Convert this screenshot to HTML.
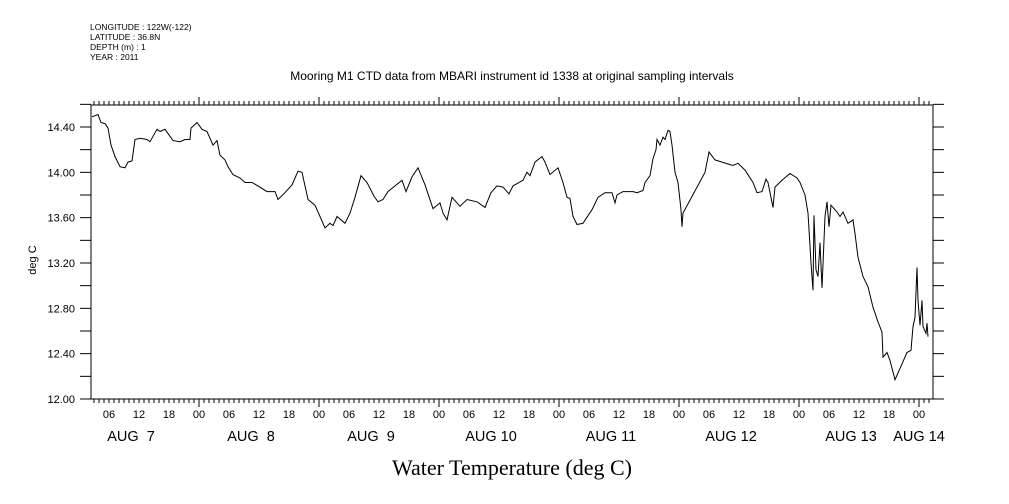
<!DOCTYPE html>
<html><head><meta charset="utf-8"><style>
html,body{margin:0;padding:0;background:#fff;}
svg{display:block;}
text{font-family:"Liberation Sans",sans-serif;fill:#000;white-space:pre;}
</style></head><body>
<svg id="chart" width="1009" height="504" viewBox="0 0 1009 504" xmlns="http://www.w3.org/2000/svg">
<g font-size="8.5">
<text x="90" y="30">LONGITUDE : 122W(-122)</text>
<text x="90" y="40">LATITUDE : 36.8N</text>
<text x="90" y="50">DEPTH (m) : 1</text>
<text x="90" y="60">YEAR : 2011</text>
</g>
<text x="512" y="80" font-size="12" text-anchor="middle">Mooring M1 CTD data from MBARI instrument id 1338 at original sampling intervals</text>
<text x="512" y="475" font-size="22" text-anchor="middle" style="font-family:'Liberation Serif',serif">Water Temperature (deg C)</text>
<text x="36" y="260" font-size="11" text-anchor="middle" transform="rotate(-90 36 260)">deg C</text>
<rect x="91" y="105" width="842" height="294" fill="none" stroke="#000" stroke-width="1"/>
<g id="axes"></g>
<path id="series" fill="none" stroke="#000" stroke-width="1"/>
</svg>
<script>
const hours=[2.6,3.8,4.4,5.2,5.8,6.4,7.2,8.2,9.2,9.8,10.6,11.2,12.2,13.6,14.2,15.6,16.2,17.2,18.8,20.2,21.2,22.2,22.4,23.6,24.6,25.6,26.8,27.6,28.2,29.2,29.8,30.8,32.2,33.2,34.6,35.8,37.6,39.2,39.8,41.2,42.6,43.8,44.6,45.8,47.2,48.2,49.2,50.2,50.8,51.6,53.2,54.2,55.2,56.4,57.6,59.0,59.8,60.8,61.8,63.2,64.6,65.4,66.6,67.8,69.2,70.8,72.2,72.8,73.6,74.6,76.2,77.6,79.6,81.2,82.4,83.6,84.8,86.0,86.8,88.8,89.6,90.2,91.2,92.6,93.2,94.2,95.8,96.8,97.6,98.2,98.8,99.6,100.8,102.6,103.8,105.2,106.6,107.2,107.6,108.8,110.8,111.6,112.8,113.2,114.2,114.8,115.4,115.6,116.2,116.8,117.2,117.8,118.2,118.6,119.2,119.8,120.4,120.6,120.8,125.2,126.0,127.2,128.6,130.8,131.8,133.2,134.8,135.6,136.6,137.4,137.8,138.8,139.2,140.6,142.2,143.6,144.2,145.2,145.8,146.4,146.8,147.0,147.4,147.8,148.2,148.6,149.2,149.6,150.0,150.4,151.6,152.2,152.8,153.8,154.8,155.2,155.8,156.8,157.8,158.8,159.8,160.6,160.8,161.6,162.2,163.2,164.2,165.6,166.4,166.8,167.2,167.6,167.8,168.2,168.6,168.8,169.4,169.6,169.8];
const temps=[14.49,14.51,14.44,14.43,14.39,14.24,14.14,14.05,14.04,14.09,14.10,14.29,14.30,14.29,14.27,14.38,14.36,14.38,14.28,14.27,14.29,14.29,14.39,14.44,14.38,14.36,14.24,14.28,14.15,14.11,14.05,13.98,13.95,13.91,13.91,13.88,13.83,13.83,13.76,13.82,13.89,14.01,14.00,13.76,13.71,13.61,13.51,13.55,13.53,13.61,13.55,13.64,13.78,13.97,13.91,13.79,13.74,13.76,13.83,13.88,13.93,13.83,13.96,14.04,13.89,13.68,13.73,13.64,13.58,13.78,13.70,13.76,13.74,13.69,13.82,13.88,13.87,13.81,13.88,13.93,14.00,13.97,14.09,14.14,14.09,13.98,14.04,13.91,13.78,13.77,13.61,13.54,13.55,13.67,13.78,13.82,13.82,13.73,13.80,13.83,13.83,13.82,13.84,13.91,13.97,14.12,14.20,14.29,14.24,14.31,14.29,14.37,14.36,14.24,14.00,13.91,13.67,13.52,13.64,14.00,14.18,14.11,14.09,14.06,14.08,14.02,13.91,13.82,13.83,13.94,13.91,13.69,13.87,13.93,13.99,13.95,13.91,13.80,13.64,13.20,12.96,13.62,13.14,13.08,13.38,12.98,13.61,13.74,13.52,13.71,13.65,13.61,13.65,13.55,13.58,13.46,13.25,13.08,12.99,12.81,12.68,12.59,12.37,12.41,12.34,12.17,12.27,12.41,12.43,12.64,12.72,13.16,12.87,12.65,12.87,12.64,12.58,12.67,12.55];
const yTicks=[12.0,12.4,12.8,13.2,13.6,14.0,14.4];
const hourLabels=["00","06","12","18"];
const dayLabels=["AUG  7","AUG  8","AUG  9","AUG 10","AUG 11","AUG 12","AUG 13","AUG 14"];
const X0=91,X1=933,Y0=399,Y1=105;
const xOf=h=>79+h*5;
const yOf=v=>399-(v-12)*113.33;
const NS="http://www.w3.org/2000/svg";
const axes=document.getElementById('axes');
function el(tag,attrs,txt){const e=document.createElementNS(NS,tag);for(const k in attrs)e.setAttribute(k,attrs[k]);if(txt!==undefined)e.textContent=txt;axes.appendChild(e);return e;}
let d="";
hours.forEach((h,i)=>{d+=(i?"L":"M")+xOf(h).toFixed(1)+" "+yOf(temps[i]).toFixed(1);});
document.getElementById('series').setAttribute('d',d);
for(let v=12.0;v<=14.61;v+=0.2){
  const y=yOf(v);
  const t1=el('line',{x1:X0-11,x2:X0,y1:y,y2:y,stroke:'#000','stroke-width':1});
  
  
  const t2=el('line',{x1:X1,x2:X1+11,y1:y,y2:y,stroke:'#000','stroke-width':1});
  
  
}
yTicks.forEach(v=>{
  const t=el('text',{x:75,y:yOf(v)+4,'font-size':11,'text-anchor':'end'},v.toFixed(2));
  
  
});
for(let h=Math.ceil((X0-79)/5);xOf(h)<=X1;h++){
  const x=xOf(h);const major=h%24===0;const len=major?8:4;
  const b=el('line',{x1:x,x2:x,y1:Y0,y2:Y0+len,stroke:'#000','stroke-width':1});
  
  
  const t=el('line',{x1:x,x2:x,y1:Y1,y2:Y1-len,stroke:'#000','stroke-width':1});
  
  
  if(h%6===0){
    const l=el('text',{x:x,y:418,'font-size':11,'text-anchor':'middle'},hourLabels[(h/6)%4]);
    
    
  }
}
dayLabels.forEach((lab,i)=>{
  let cx=Math.min(xOf(i*24+12)-8,X1-14);
  const t=el('text',{x:cx,y:441,'font-size':14.5,'text-anchor':'middle'},lab);
  
  
});
</script>
</body></html>
